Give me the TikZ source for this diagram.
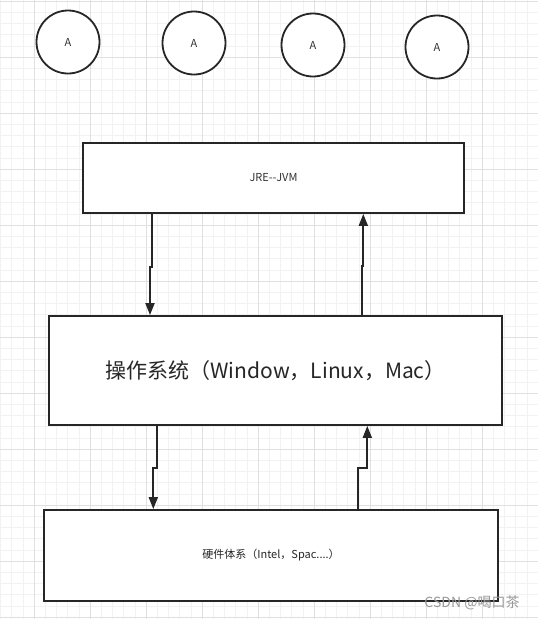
\documentclass[tikz,border=0pt]{standalone}
\usepackage{fontspec}
\setmainfont{Noto Sans CJK SC}
\usetikzlibrary{positioning,arrows.meta}

\begin{document}
\begin{tikzpicture}[
  x=1pt,y=-1pt,
  minorln/.style={draw=black!5,line width=0.6pt},
  majorln/.style={draw=black!12,line width=0.8pt},
  b/.style={draw=black!85,line width=1.8pt,fill=white,inner sep=0pt,align=center},
  ball/.style={circle,draw=black!85,line width=1.8pt,fill=white,minimum size=63pt,
    inner sep=0pt,text=black!80,font=\fontsize{11}{13}\selectfont},
  ar/.style={-{Triangle[length=12pt,width=9pt]},draw=black!85,line width=1.8pt},
]
% Page is in pixels of the sketch (y down). Grid first, then the
% white boxes hide it; arrows carry the small jogs of the drawing.
\useasboundingbox[fill=white] (0,0) rectangle (538,619);
\foreach \i in {0,...,48} \draw[minorln] ({0.4+\i*11.2},0) -- ++(0,619);
\foreach \j in {0,...,55} \draw[minorln] (0,{1+\j*11.2}) -- ++(538,0);
\foreach \i in {0,...,8} \draw[majorln] ({34+\i*56},0) -- ++(0,619);
\foreach \j in {0,...,11} \draw[majorln] (0,{1+\j*56}) -- ++(538,0);

\node[ball] (a1) at (68,42) {A};
\node[ball] (a2) at (194,43) {A};
\node[ball] (a3) at (313,45) {A};
\node[ball] (a4) at (437,47) {A};

\node[b,minimum width=381pt,minimum height=70pt,font=\fontsize{11}{13}\selectfont,text=black!80]
  (jre) at (273.5,178) {JRE-{}-JVM};
\node[b,minimum width=453pt,minimum height=109pt,font=\fontsize{21}{25}\selectfont,text=black!85]
  (os) at (275.5,370.5) {操作系统（Window，Linux，Mac）};
\node[b,minimum width=454pt,minimum height=91pt,font=\fontsize{11}{13}\selectfont,text=black!85]
  (hw) at (271,555.5) {硬件体系（Intel，Spac....）};

\draw[ar] (jre.south -| 151.7,0) -- (151.7,267) -- (150,267) -- (os.north -| 150,0);
\draw[ar] (os.north -| 361.7,0) -- (361.7,266) -- (363.3,266) -- (jre.south -| 363.3,0);
\draw[ar] (os.south -| 156.7,0) -- (156.7,468) -- (153.3,468) -- (hw.north -| 153.3,0);
\draw[ar] (hw.north -| 357.7,0) -- (357.7,468) -- (367.3,468) -- (os.south -| 367.3,0);

\node[text=black!40,font=\fontsize{14}{16}\selectfont,inner sep=0pt] (mark) at (472,603) {CSDN @喝口茶};
\end{tikzpicture}
\end{document}
